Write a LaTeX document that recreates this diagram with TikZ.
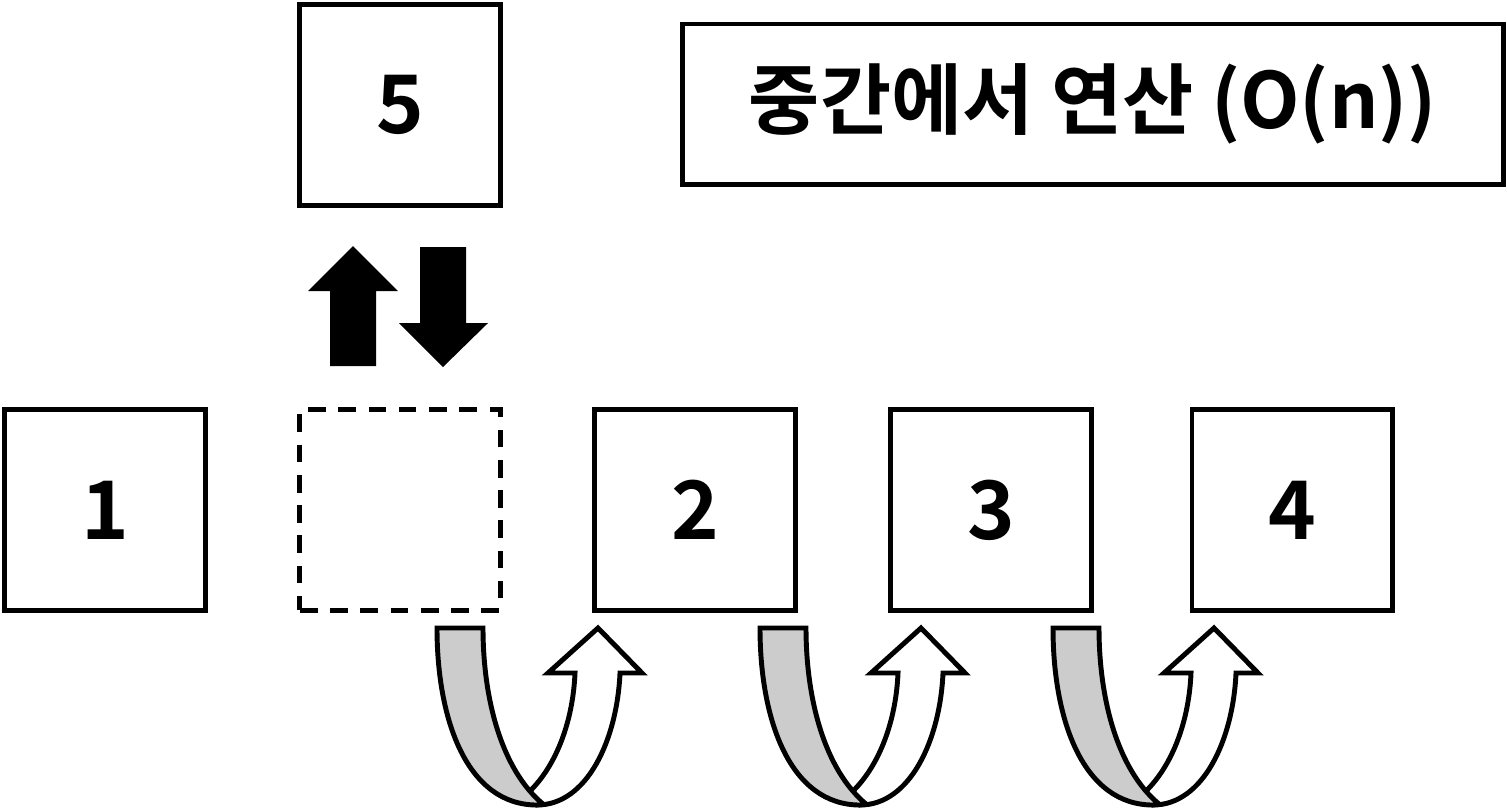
\documentclass[tikz,border=0pt]{standalone}
\usepackage{fontspec}
\setmainfont{Noto Sans CJK KR}[BoldFont={Noto Sans CJK KR Bold}]
\usetikzlibrary{positioning}

\begin{document}
\begin{tikzpicture}[x = 0.01cm, y = -0.01cm, line width = 1.4pt,
	cell/.style = {draw, minimum size = 2.0cm, inner sep = 0pt,
		font = \bfseries\fontsize{23}{23}\selectfont},
	hole/.style = {cell, dash pattern = on 5pt off 3.6pt},
	titlebox/.style = {draw, minimum width = 8.2cm, minimum height = 1.6cm,
		font = \bfseries\fontsize{22}{22}\selectfont},
	band/.style = {draw, line join = miter}]
	\useasboundingbox (0,0) rectangle (1507,808);
	% the row
	\node [cell] (c1) at (105,510) {1};
	\node [hole] (gap) at (400,510) {};
	\node [cell] (c2) at (695,510) {2};
	\node [cell] (c3) at (991,510) {3};
	\node [cell] (c4) at (1292,510) {4};
	\node [cell] (c5) at (400,105) {5};
	\node [titlebox] (title) at (1093,104) {중간에서 연산 (O(n))};
	% insert / remove
	\fill (330,366) -- (330,291) -- (308,291) -- (353,246) -- (398,291)
		-- (376,291) -- (376,366) -- cycle;
	\fill (420,247) -- (466,247) -- (466,323) -- (488,323) -- (443,367)
		-- (399,323) -- (420,323) -- cycle;
	% shifts
	\foreach \x in {437,760,1053}
	{
		\begin{scope}[shift = {(\x,0)}]
			\draw [band, fill = white] (100,805) .. controls (150,805) and (180,740) .. (183,673)
				-- (205,673) -- (161,628) -- (111,673) -- (138,673)
				.. controls (136,720) and (120,765) .. (92,792) -- cycle;
			\draw [band, fill = black!20] (0,628) .. controls (0,720) and (30,805) .. (100,805)
				-- (106,804) .. controls (65,770) and (46,700) .. (46,628) -- cycle;
		\end{scope}
	}
\end{tikzpicture}
\end{document}
